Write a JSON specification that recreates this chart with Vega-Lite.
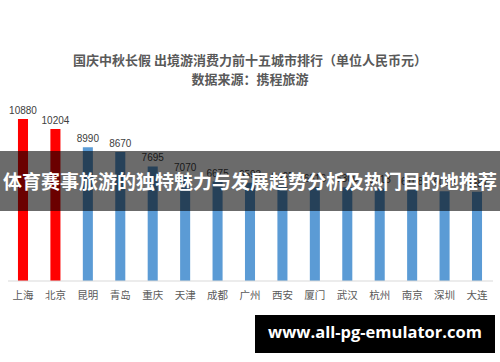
{
  "$schema": "https://vega.github.io/schema/vega-lite/v6.json",
  "width": 500,
  "height": 267,
  "autosize": {"type": "none"},
  "padding": {"left": 0, "right": 0, "top": 95, "bottom": 0},
  "background": "white",
  "config": {"view": {"stroke": null}, "font": "Noto Sans CJK SC"},
  "title": {
    "text": ["国庆中秋长假 出境游消费力前十五城市排行（单位人民币元）", "数据来源：携程旅游"],
    "fontSize": 13,
    "lineHeight": 19,
    "color": "#595959",
    "fontWeight": "bold",
    "anchor": "middle",
    "offset": 8,
    "font": "Noto Sans CJK SC"
  },
  "datasets": {
    "cities": [
      {"city": "上海", "value": 10880},
      {"city": "北京", "value": 10204},
      {"city": "昆明", "value": 8990},
      {"city": "青岛", "value": 8670},
      {"city": "重庆", "value": 7695},
      {"city": "天津", "value": 7070},
      {"city": "成都", "value": 6675},
      {"city": "广州", "value": 6593},
      {"city": "西安", "value": 6465},
      {"city": "厦门", "value": 6316},
      {"city": "武汉", "value": 6300},
      {"city": "杭州", "value": 6213},
      {"city": "南京", "value": 6108},
      {"city": "深圳", "value": 6029},
      {"city": "大连", "value": 5987}
    ]
  },
  "resolve": {"scale": {"x": "independent"}},
  "layer": [
    {
      "data": {"name": "cities"},
      "layer": [
        {
          "mark": {"type": "bar"},
          "encoding": {
            "x": {
              "field": "city", "type": "nominal", "sort": null, "axis": null,
              "scale": {"paddingInner": 0.69, "paddingOuter": 0.554}
            },
            "y": {
              "field": "value", "type": "quantitative", "axis": null,
              "scale": {"domain": [-5440, 12492], "nice": false, "zero": false}
            },
            "color": {
              "condition": {"test": "datum.value > 10000", "value": "#FF0000"},
              "value": "#5B9BD5"
            }
          }
        },
        {
          "mark": {"type": "text", "baseline": "bottom", "dy": -3, "fontSize": 10, "color": "#404040", "font": "Liberation Sans Narrow, Liberation Sans"},
          "encoding": {
            "x": {"field": "city", "type": "nominal", "sort": null, "axis": null},
            "y": {"field": "value", "type": "quantitative"},
            "text": {"field": "value", "type": "quantitative", "format": "d"}
          }
        },
        {
          "mark": {"type": "text", "baseline": "middle", "fontSize": 10.5, "color": "#595959", "font": "Noto Sans CJK SC"},
          "encoding": {
            "x": {"field": "city", "type": "nominal", "sort": null, "axis": null},
            "y": {"datum": -1007, "type": "quantitative"},
            "text": {"field": "city", "type": "nominal"}
          }
        }
      ]
    },
    {
      "layer": [
        {
          "data": {"values": [{"xa": 1.6, "xb": 98.6, "yv": 0}]},
          "mark": {"type": "rule", "color": "#D9D9D9", "strokeWidth": 1},
          "encoding": {
            "x": {"field": "xa", "type": "quantitative", "axis": null, "scale": {"domain": [0, 100], "nice": false, "zero": false}},
            "x2": {"field": "xb"},
            "y": {"field": "yv", "type": "quantitative"}
          }
        },
        {
          "data": {"values": [{"xa": 0, "xb": 100, "ya": 8731, "yb": 4701}]},
          "mark": {"type": "rect", "color": "#000000", "opacity": 0.58},
          "encoding": {
            "x": {"field": "xa", "type": "quantitative"},
            "x2": {"field": "xb"},
            "y": {"field": "ya", "type": "quantitative"},
            "y2": {"field": "yb"}
          }
        },
        {
          "data": {"values": [{"label": "体育赛事旅游的独特魅力与发展趋势分析及热门目的地推荐", "xc": 50, "yc": 6582}]},
          "mark": {"type": "text", "baseline": "middle", "align": "center", "fontSize": 19, "fontWeight": "bold", "color": "#FFFFFF", "font": "Noto Sans CJK SC"},
          "encoding": {
            "x": {"field": "xc", "type": "quantitative"},
            "y": {"field": "yc", "type": "quantitative"},
            "text": {"field": "label", "type": "nominal"}
          }
        },
        {
          "data": {"values": [{"xa": 51, "xb": 99, "ya": -2283, "yb": -4836}]},
          "mark": {"type": "rect", "color": "#000000"},
          "encoding": {
            "x": {"field": "xa", "type": "quantitative"},
            "x2": {"field": "xb"},
            "y": {"field": "ya", "type": "quantitative"},
            "y2": {"field": "yb"}
          }
        },
        {
          "data": {"values": [{"label": "www.all-pg-emulator.com", "xc": 75, "yc": -3492}]},
          "mark": {"type": "text", "baseline": "middle", "align": "center", "fontSize": 16.5, "fontWeight": "bold", "color": "#FFFFFF", "font": "Open Sans"},
          "encoding": {
            "x": {"field": "xc", "type": "quantitative"},
            "y": {"field": "yc", "type": "quantitative"},
            "text": {"field": "label", "type": "nominal"}
          }
        }
      ]
    }
  ]
}
